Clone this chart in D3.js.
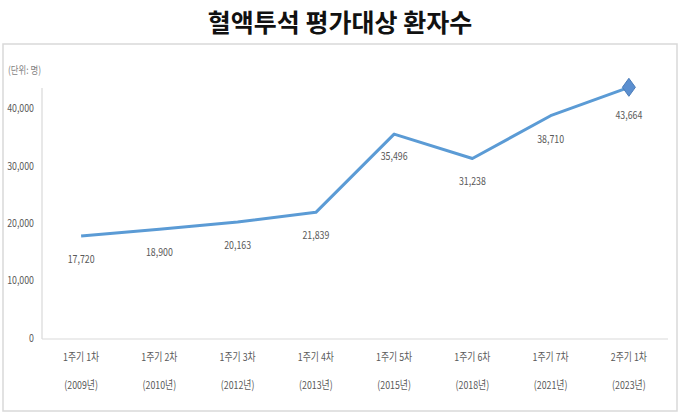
<!DOCTYPE html>
<html><head><meta charset="utf-8">
<script src="https://cdn.jsdelivr.net/npm/d3@7"></script>
<style>body{margin:0;background:#fff}svg{display:block}</style>
</head><body>
<svg id="c" width="680" height="414"></svg>
<script>
const title = "혈액투석 평가대상 환자수";
const unitLabel = "(단위: 명)";
const rounds = ["1주기 1차","1주기 2차","1주기 3차","1주기 4차","1주기 5차","1주기 6차","1주기 7차","2주기 1차"];
const years = ["(2009년)","(2010년)","(2012년)","(2013년)","(2015년)","(2018년)","(2021년)","(2023년)"];
const values = [17720, 18900, 20163, 21839, 35496, 31238, 38710, 43664];
const yTicks = [0, 10000, 20000, 30000, 40000];

const svg = d3.select("#c");
const font = "'Noto Sans CJK KR','Noto Sans',sans-serif";
const gray = "#595959";
const sx = 0.8;

svg.append("rect").attr("x",3).attr("y",44).attr("width",674).attr("height",367)
  .attr("fill","#fff").attr("stroke","#d9d9d9").attr("stroke-width",1.5);

svg.append("text").attr("x",340).attr("y",32).attr("text-anchor","middle")
  .attr("font-family",font).attr("font-weight","bold").attr("font-size",25)
  .attr("fill","#111").text(title);

const x = d3.scaleBand().domain(rounds).range([42,668]);
const y = d3.scaleLinear().domain([0,40000]).range([337.5,108.3]);

function ctext(g, px, py, txt, anchor, size){
  return g.append("text").attr("transform",`translate(${px},${py}) scale(${sx},1)`)
    .attr("text-anchor",anchor).attr("font-family",font).attr("font-size",size)
    .attr("fill",gray).text(txt);
}

// unit label
ctext(svg, 8, 74, unitLabel, "start", 10.5).attr("fill","#7f7f7f");

// axes lines
svg.append("line").attr("x1",42).attr("x2",42).attr("y1",88).attr("y2",339).attr("stroke","#d9d9d9").attr("stroke-width",1.2);
svg.append("line").attr("x1",42).attr("x2",668).attr("y1",339).attr("y2",339).attr("stroke","#d9d9d9").attr("stroke-width",1.2);

// y tick labels
yTicks.forEach(t => ctext(svg, 34, y(t)+4, d3.format(",")(t), "end", 11));

// x labels
rounds.forEach((r,i) => {
  const cx = x(r) + x.bandwidth()/2;
  ctext(svg, cx, 361, r, "middle", 11);
  ctext(svg, cx, 389, years[i], "middle", 11);
});

// line
const line = d3.line().x((d,i)=>x(rounds[i])+x.bandwidth()/2).y(d=>y(d));
svg.append("path").datum(values).attr("d",line).attr("fill","none")
  .attr("stroke","#5b9bd5").attr("stroke-width",3).attr("stroke-linejoin","round");

// diamond marker at last point
const li = values.length-1;
const lx = x(rounds[li])+x.bandwidth()/2, ly = y(values[li]);
svg.append("path").attr("d",`M${lx},${ly-9} L${lx+6.5},${ly} L${lx},${ly+9} L${lx-6.5},${ly} Z`)
  .attr("fill","#5b8fd0").attr("stroke","#4a7cb8").attr("stroke-width",1);

// data labels
const offs = [23,23,23,23,22,22,23,28];
values.forEach((v,i) => {
  const cx = x(rounds[i])+x.bandwidth()/2;
  ctext(svg, cx, y(v)+offs[i]+4, d3.format(",")(v), "middle", 11);
});
</script>
</body></html>
